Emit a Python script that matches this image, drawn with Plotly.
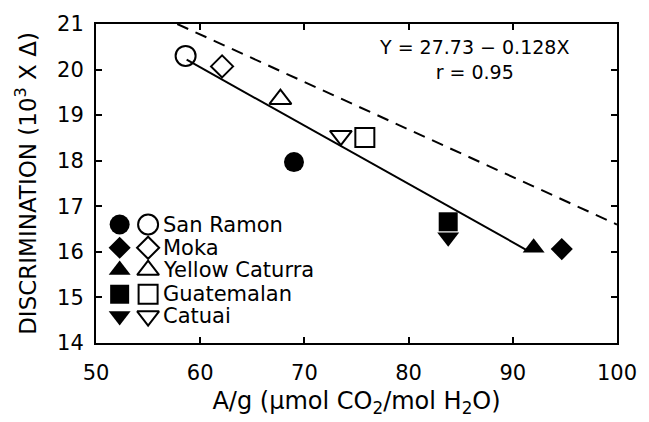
import plotly.graph_objects as go

# ---- data ----
cultivars = ["San Ramon", "Moka", "Yellow Caturra", "Guatemalan", "Catuai"]
symbols_filled = ["circle", "diamond", "triangle-up", "square", "triangle-down"]
symbols_open = ["circle-open", "diamond-open", "triangle-up-open", "square-open", "triangle-down-open"]
open_x = [58.6, 62.1, 67.7, 75.8, 73.5]
open_y = [20.30, 20.07, 19.35, 18.51, 18.55]
filled_x = [69.0, 94.7, 92.0, 83.8, 83.8]
filled_y = [17.97, 16.06, 16.09, 16.66, 16.32]
marker_sizes = [20, 17, 19, 19, 19]

reg_intercept = 27.73
reg_slope = -0.128
reg_x = [58.7, 91.5]
dash_x = [57.8, 100.0]
dash_y = [21.0, 16.6]

x_ticks = [50, 60, 70, 80, 90, 100]
y_ticks = [14, 15, 16, 17, 18, 19, 20, 21]

# ---- layout constants (legend placement) ----
leg_x_filled = 52.27
leg_x_open = 55.0
leg_x_text = 56.2
leg_y = [16.60, 16.09, 15.60, 15.07, 14.59]

FONT = "DejaVu Sans"
fig = go.Figure()

# regression line
fig.add_trace(go.Scatter(x=reg_x, y=[reg_intercept + reg_slope * v for v in reg_x],
                         mode="lines", line=dict(color="black", width=2), showlegend=False))
# dashed line
fig.add_trace(go.Scatter(x=dash_x, y=dash_y, mode="lines",
                         line=dict(color="black", width=2, dash="12px,8px"), showlegend=False))

for i, name in enumerate(cultivars):
    fig.add_trace(go.Scatter(x=[open_x[i]], y=[open_y[i]], mode="markers",
                             marker=dict(symbol=symbols_open[i], size=marker_sizes[i], color="black",
                                         line=dict(width=2, color="black")),
                             showlegend=False))
    fig.add_trace(go.Scatter(x=[filled_x[i]], y=[filled_y[i]], mode="markers",
                             marker=dict(symbol=symbols_filled[i], size=marker_sizes[i], color="black",
                                         line=dict(width=0)),
                             showlegend=False))
    # legend entries
    fig.add_trace(go.Scatter(x=[leg_x_filled], y=[leg_y[i]], mode="markers",
                             marker=dict(symbol=symbols_filled[i], size=marker_sizes[i], color="black",
                                         line=dict(width=0)),
                             showlegend=False, cliponaxis=False))
    fig.add_trace(go.Scatter(x=[leg_x_open], y=[leg_y[i]], mode="markers",
                             marker=dict(symbol=symbols_open[i], size=marker_sizes[i], color="black",
                                         line=dict(width=2, color="black")),
                             showlegend=False, cliponaxis=False))
    fig.add_annotation(x=leg_x_text, y=leg_y[i], text=name, showarrow=False,
                       xanchor="left", yanchor="middle",
                       font=dict(family=FONT, size=21, color="black"))

fig.add_annotation(x=86.3, y=20.23, text="Y = 27.73 \u2212 0.128X<br>r = 0.95", showarrow=False,
                   xanchor="center", yanchor="middle", align="center",
                   font=dict(family=FONT, size=19, color="black"))

axis_common = dict(showline=True, linecolor="black", linewidth=2, mirror="ticks",
                   ticks="inside", ticklen=6, tickwidth=2, tickcolor="black",
                   showgrid=False, zeroline=False,
                   tickfont=dict(family=FONT, size=21, color="black"))

fig.update_xaxes(range=[50, 100], tickvals=x_ticks, ticklabelstandoff=10,
                 title=dict(text="A/g (\u03bcmol CO<sub>2</sub>/mol H<sub>2</sub>O)",
                            font=dict(family=FONT, size=24, color="black"), standoff=8),
                 **axis_common)
fig.update_yaxes(range=[14, 21], tickvals=y_ticks, ticklabelstandoff=6,
                 title=dict(text="DISCRIMINATION (10<sup>3</sup> X \u0394)",
                            font=dict(family=FONT, size=23, color="black"), standoff=14),
                 **axis_common)

fig.update_layout(width=649, height=422, margin=dict(l=96, r=24, t=19, b=75),
                  plot_bgcolor="white", paper_bgcolor="white", showlegend=False)

fig.write_html("out.html")
